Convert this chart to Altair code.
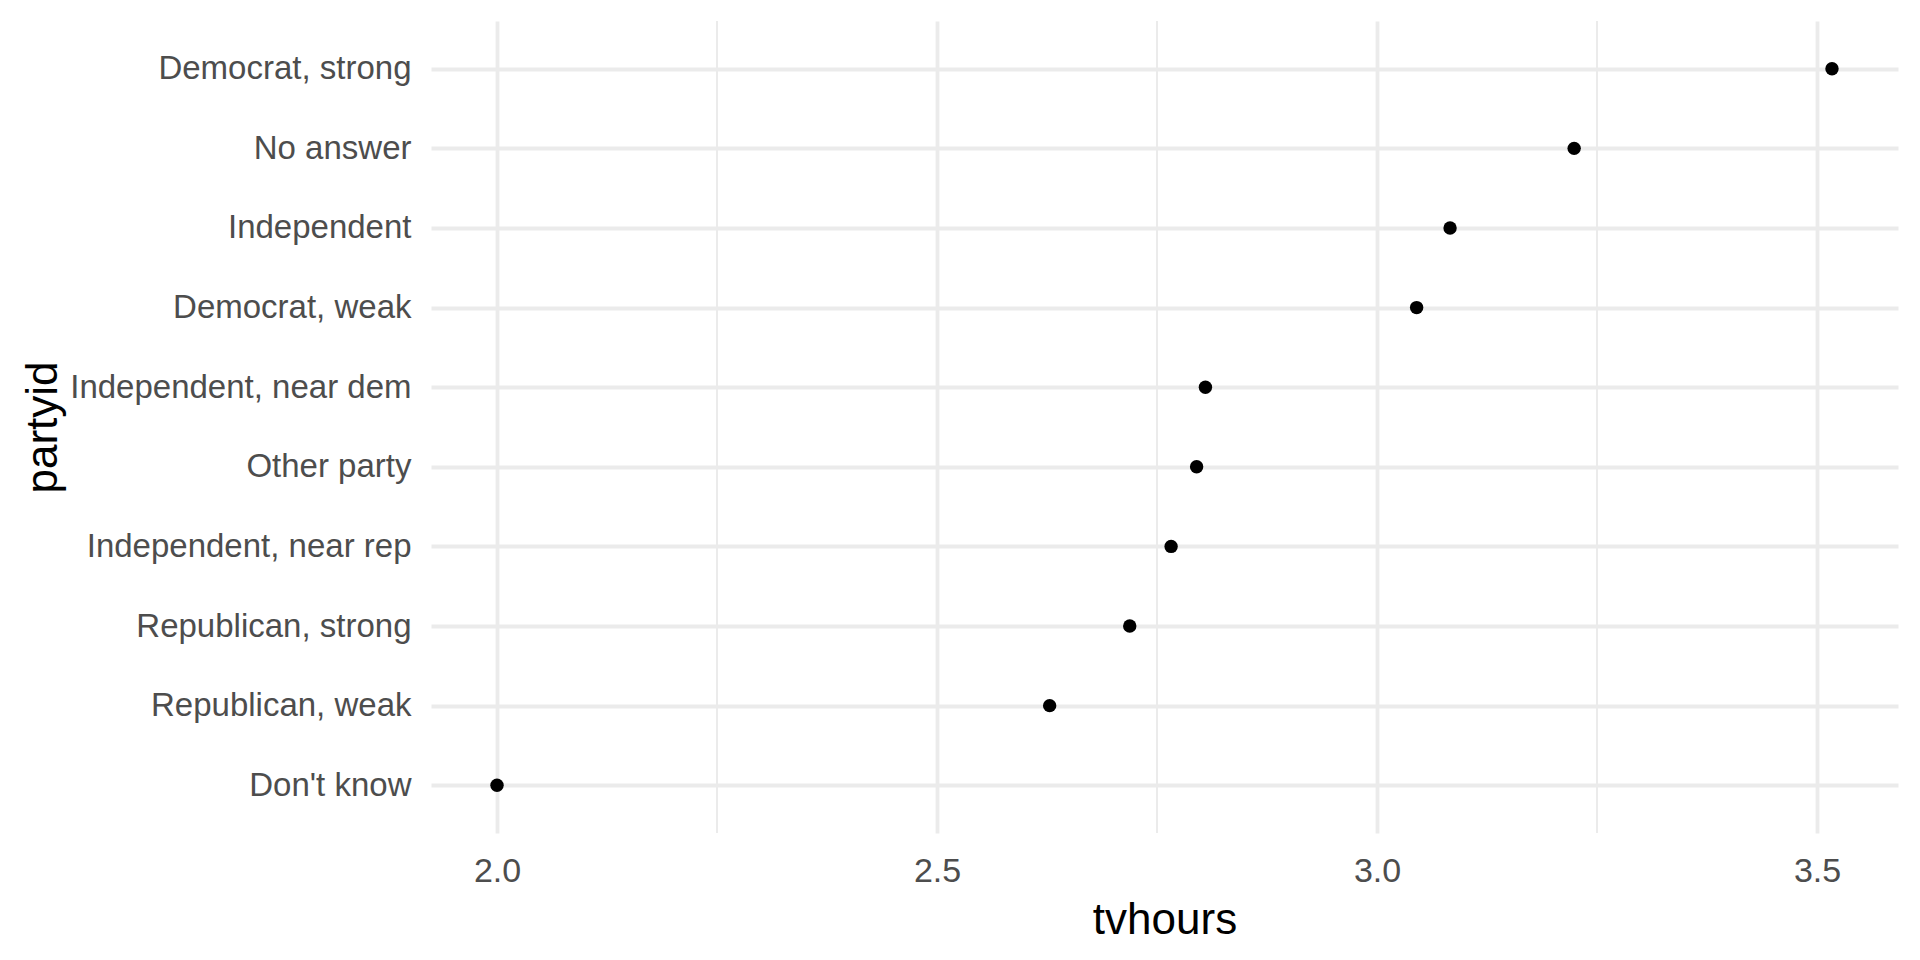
import altair as alt
import pandas as pd

partyid = [
    "Democrat, strong", "No answer", "Independent", "Democrat, weak",
    "Independent, near dem", "Other party", "Independent, near rep",
    "Republican, strong", "Republican, weak", "Don't know",
]
tvhours = [3.517, 3.224, 3.083, 3.045, 2.805, 2.795, 2.766, 2.719, 2.628, 2.0]
major_ticks = [2.0, 2.5, 3.0, 3.5]
minor_ticks = [2.25, 2.75, 3.25]

df = pd.DataFrame({"partyid": partyid, "tvhours": tvhours})
minor_df = pd.DataFrame({"tvhours": minor_ticks})

xscale = alt.Scale(domain=[1.925, 3.592], nice=False, zero=False)
x_axis = alt.Axis(
    values=major_ticks, format=".1f", title="tvhours",
    grid=True, gridColor="#EBEBEB", gridWidth=3.8,
    ticks=False, domain=False,
    labelFont="Liberation Sans", labelFontSize=34, labelColor="#4D4D4D",
    labelPadding=21,
    titleFont="Liberation Sans", titleFontSize=44, titleColor="black",
    titleFontWeight="normal", titlePadding=10,
)

minor = alt.Chart(minor_df).mark_rule(color="#EBEBEB", strokeWidth=2).encode(
    x=alt.X("tvhours:Q", scale=xscale, axis=x_axis, title="tvhours")
)

points = alt.Chart(df).mark_circle(color="black", opacity=1, size=180).encode(
    x=alt.X("tvhours:Q", scale=xscale, axis=x_axis, title="tvhours"),
    y=alt.Y(
        "partyid:N",
        sort=partyid,
        scale=alt.Scale(type="point", padding=0.6),
        axis=alt.Axis(
            title="partyid", grid=True, gridColor="#EBEBEB", gridWidth=3.8,
            ticks=False, domain=False, labelLimit=800,
            labelFont="Liberation Sans", labelFontSize=33, labelColor="#4D4D4D",
            labelPadding=20,
            titleFont="Liberation Sans", titleFontSize=44, titleColor="black",
            titleFontWeight="normal", titleX=-388, titleBaseline="middle",
        ),
    ),
)

chart = alt.layer(minor, points).properties(
    width=1467, height=812,
    background="white",
    autosize=alt.AutoSizeParams(type="none"),
    padding={"left": 423, "top": 13, "right": 14, "bottom": 110},
).configure_view(strokeWidth=0)

chart.save("out.html", embed_options={"renderer": "svg", "actions": False})
